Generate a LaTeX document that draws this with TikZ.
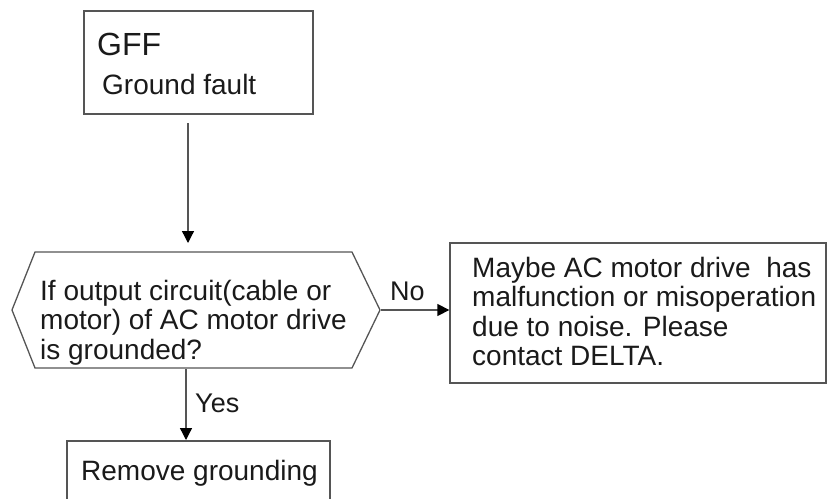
\documentclass[tikz,border=0pt]{standalone}
\usepackage{fontspec}
\setmainfont{Liberation Sans}
\usetikzlibrary{arrows.meta}
\definecolor{linec}{HTML}{555555}
\definecolor{textc}{HTML}{1A1A1A}
\begin{document}
\begin{tikzpicture}[x=1pt,y=-1pt,
  box/.style={draw=linec, line width=1.3pt, rectangle, inner sep=0pt},
  txt/.style={anchor=base west, inner sep=0pt, text=textc, font=\fontsize{28}{29.5}\selectfont},
  arr/.style={draw=linec, line width=1.3pt, -{Triangle[length=12pt,width=12pt,color=black]}}]
\useasboundingbox (0,0) rectangle (830,498);
% boxes
\node[box, minimum width=229pt, minimum height=103pt] (gff) at (198.5,62.5) {};
\node[box, minimum width=376pt, minimum height=140pt] (maybe) at (638,313) {};
\node[box, minimum width=263pt, minimum height=100pt] (rem) at (198.5,491) {};
% hexagon
\coordinate (h1) at (12,310);
\coordinate (h2) at (35,252);
\coordinate (h3) at (352,252);
\coordinate (h4) at (380,310);
\coordinate (h5) at (352,368);
\coordinate (h6) at (35,368);
\draw[draw=linec, line width=1.3pt] (h1) -- (h2) -- (h3) -- (h4) -- (h5) -- (h6) -- cycle;
% texts
\node[txt, font=\fontsize{32}{34}\selectfont] (gfft) at (97,55) {GFF};
\node[txt] (gfdt) at (102,94) {Ground fault};
\node[txt] (qt) at (40,300) {\begin{tabular}[t]{@{}l@{}}If output circuit(cable or\\motor) of AC motor drive\\is grounded?\end{tabular}};
\node[txt] (mt) at (472,277) {\begin{tabular}[t]{@{}l@{}}Maybe AC motor drive\ \ has\\malfunction or misoperation\\due to noise. Please\\contact DELTA.\end{tabular}};
\node[txt] (remt) at (81,480) {Remove grounding};
\node[txt, font=\fontsize{27}{29}\selectfont] (no) at (390,300) {No};
\node[txt, font=\fontsize{27}{29}\selectfont] (yes) at (195,412) {Yes};
% connectors
\coordinate (a1s) at (188,123);
\coordinate (a1e) at (188,243);
\draw[arr] (a1s) -- (a1e);
\coordinate (a2s) at (381,310);
\draw[arr] (a2s) -- (maybe.west |- a2s);
\coordinate (a3s) at (186,369);
\coordinate (a3e) at (186,440);
\draw[arr] (a3s) -- (a3e);
\end{tikzpicture}
\end{document}
